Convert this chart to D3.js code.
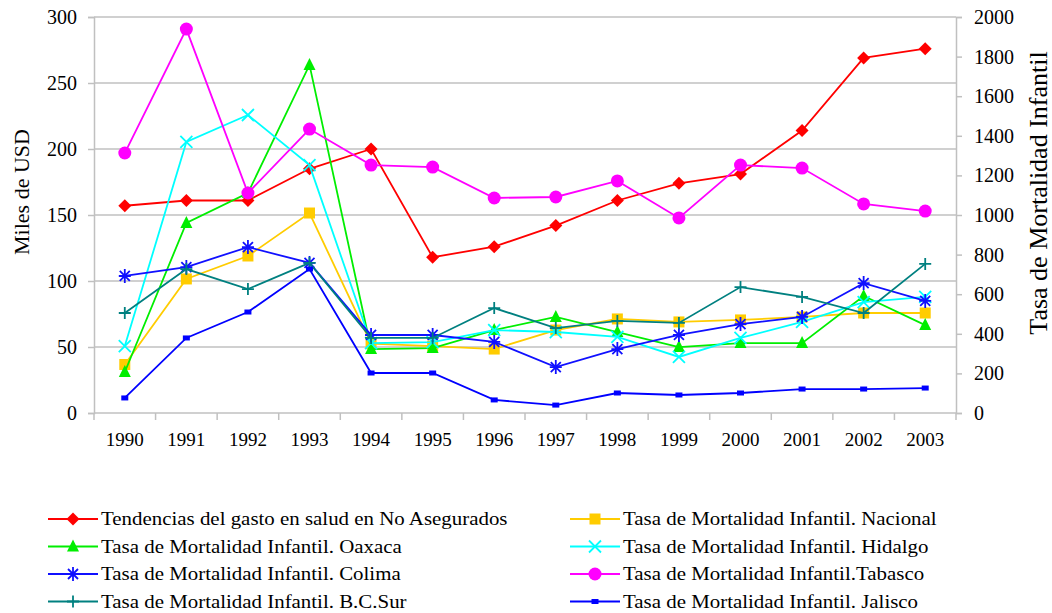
<!DOCTYPE html>
<html>
  <head>
    <meta charset="utf-8">
    <title>Gasto en salud y mortalidad infantil</title>
    <style>
      body{ margin:0; background:#fff; }
      svg{ display:block; }
      svg text{ font-family:"Liberation Serif","Times New Roman",serif; }
    </style>
  </head>
  <body>
    <svg id="chart" width="1052" height="613"></svg>
  <script src="https://d3js.org/d3.v7.min.js"></script>
  <script>
    var years = ["1990","1991","1992","1993","1994","1995","1996","1997","1998","1999","2000","2001","2002","2003"]

    // Miles de USD (left axis)
    var gasto    = [157,161,161,185,200,118,126,142,161,174,181,214,269,276]
    // Tasa de mortalidad infantil (right axis)
    var nacional = [245,677,793,1010,350,338,323,419,475,460,470,485,505,505]
    var oaxaca   = [207,960,1111,1758,323,328,419,485,409,333,353,353,591,444]
    var hidalgo  = [338,1369,1505,1252,353,358,419,409,384,283,379,460,560,586]
    var colima   = [692,737,838,758,394,394,359,232,323,394,449,485,656,566]
    var tabasco  = [1313,1939,1111,1434,1252,1242,1086,1091,1172,985,1252,1237,1056,1020]
    var bcsur    = [505,727,626,758,379,379,530,429,465,455,636,586,505,753]
    var jalisco  = [76,379,510,727,202,202,66,40,101,91,101,121,121,126]

    var leftTicks  = [0,50,100,150,200,250,300]
    var rightTicks = [0,200,400,600,800,1000,1200,1400,1600,1800,2000]

    var series = [
      {name:"Tendencias del gasto en salud en No Asegurados", values:gasto, axis:"left", color:"#ff0000", marker:"diamond"},
      {name:"Tasa de Mortalidad Infantil. Nacional", values:nacional, axis:"right", color:"#ffcc00", marker:"square"},
      {name:"Tasa de Mortalidad Infantil. Oaxaca", values:oaxaca, axis:"right", color:"#00ee00", marker:"triangle"},
      {name:"Tasa de Mortalidad Infantil. Hidalgo", values:hidalgo, axis:"right", color:"#00ffff", marker:"x"},
      {name:"Tasa de Mortalidad Infantil. Colima", values:colima, axis:"right", color:"#1010ff", marker:"star"},
      {name:"Tasa de  Mortalidad Infantil.Tabasco", values:tabasco, axis:"right", color:"#ff00ff", marker:"circle"},
      {name:"Tasa de Mortalidad Infantil. B.C.Sur", values:bcsur, axis:"right", color:"#008080", marker:"plus"},
      {name:"Tasa de Mortalidad Infantil. Jalisco", values:jalisco, axis:"right", color:"#0000ff", marker:"smallsquare"}
    ]

    var svg = d3.select("#chart")
    var m = {left:94, right:956, top:17, bottom:413}
    var serif = "Liberation Serif"

    var x = d3.scaleBand().domain(years).range([m.left,m.right]).padding(0)
    var yL = d3.scaleLinear().domain([0,300]).range([m.bottom,m.top])
    var yR = d3.scaleLinear().domain([0,2000]).range([m.bottom,m.top])
    var grey = "#c0c0c0"

    // gridlines
    svg.append("g").selectAll("line").data(leftTicks.slice(1)).enter().append("line")
      .attr("x1",m.left).attr("x2",m.right)
      .attr("y1",function(d){return yL(d)}).attr("y2",function(d){return yL(d)})
      .attr("stroke",grey).attr("stroke-width",1.5)

    // left axis
    var gl = svg.append("g").attr("transform","translate("+m.left+",0)")
      .call(d3.axisLeft(yL).tickValues(leftTicks).tickSize(6).tickPadding(11))
    // right axis
    var gr = svg.append("g").attr("transform","translate("+m.right+",0)")
      .call(d3.axisRight(yR).tickValues(rightTicks).tickFormat(d3.format("d")).tickSize(6).tickPadding(12))
    // bottom axis
    var gb = svg.append("g").attr("transform","translate(0,"+m.bottom+")")
      .call(d3.axisBottom(x).tickSize(0).tickPadding(20))
    gb.selectAll(".tick").append("line")
      .attr("x1",x.bandwidth()/2).attr("x2",x.bandwidth()/2).attr("y1",0).attr("y2",7)
      .attr("stroke",grey).attr("stroke-width",1.5)
    gb.append("line").attr("x1",m.left).attr("x2",m.left).attr("y1",0).attr("y2",7)
      .attr("stroke",grey).attr("stroke-width",1.5)

    ;[gl,gr,gb].forEach(function(g){
      g.selectAll(".domain").attr("stroke",grey).attr("stroke-width",1.5)
      g.selectAll(".tick line").attr("stroke",grey).attr("stroke-width",1.5)
      g.selectAll("text").style("font-family",serif).style("font-size","20px").attr("fill","#000")
    })
    gb.selectAll("text").style("font-size","19px")
    gb.select(".domain").attr("d","M"+m.left+",0H"+m.right)

    // axis titles
    svg.append("text").attr("transform","translate(29,192) rotate(-90)")
      .attr("text-anchor","middle").style("font-family",serif).style("font-size","22px").text("Miles de USD")
    svg.append("text").attr("transform","translate(1047,193) rotate(-90)")
      .attr("text-anchor","middle").style("font-family",serif).style("font-size","26px").text("Tasa de Mortalidad Infantil")

    function drawMarker(g, type, color){
      if(type=="diamond"){
        g.append("path").attr("d","M0,-6.5L6.5,0L0,6.5L-6.5,0Z").attr("fill",color)
      } else if(type=="square"){
        g.append("rect").attr("x",-5.5).attr("y",-5.5).attr("width",11).attr("height",11).attr("fill",color)
      } else if(type=="smallsquare"){
        g.append("rect").attr("x",-3.5).attr("y",-2.5).attr("width",7).attr("height",5).attr("fill",color)
      } else if(type=="triangle"){
        g.append("path").attr("d","M0,-7L6,5L-6,5Z").attr("fill",color)
      } else if(type=="circle"){
        g.append("circle").attr("r",6.5).attr("fill",color)
      } else if(type=="x"){
        g.append("path").attr("d","M-6,-6L6,6M-6,6L6,-6").attr("stroke",color).attr("stroke-width",1.8)
      } else if(type=="plus"){
        g.append("path").attr("d","M-6,0L6,0M0,-6L0,6").attr("stroke",color).attr("stroke-width",1.8)
      } else if(type=="star"){
        g.append("path").attr("d","M-6,0L6,0M0,-7L0,7M-5,-5L5,5M-5,5L5,-5").attr("stroke",color).attr("stroke-width",1.8)
      }
    }

    var plot = svg.append("g")
    series.forEach(function(s){
      var ys = s.axis=="left" ? yL : yR
      var line = d3.line()
        .x(function(d,i){return x(years[i])+x.bandwidth()/2})
        .y(function(d){return ys(d)})
      plot.append("path").datum(s.values).attr("d",line)
        .attr("fill","none").attr("stroke",s.color).attr("stroke-width",1.8)
      plot.append("g").selectAll("g").data(s.values).enter().append("g")
        .attr("transform",function(d,i){return "translate("+(x(years[i])+x.bandwidth()/2)+","+ys(d)+")"})
        .each(function(){ drawMarker(d3.select(this), s.marker, s.color) })
    })

    // legend
    var legend = svg.append("g")
    series.forEach(function(s,i){
      var col = i%2, row = Math.floor(i/2)
      var lx = col==0 ? 48 : 570
      var ly = 519 + row*27.5
      var item = legend.append("g").attr("transform","translate("+lx+","+ly+")")
      item.append("line").attr("x1",0).attr("x2",50).attr("y1",0).attr("y2",0)
        .attr("stroke",s.color).attr("stroke-width",2)
      drawMarker(item.append("g").attr("transform","translate(25,0)"), s.marker, s.color)
      item.append("text").attr("transform","translate(53,6) scale(1.1,1)")
        .style("font-family",serif).style("font-size","19px").text(s.name)
    })
  </script>
  </body>
</html>
